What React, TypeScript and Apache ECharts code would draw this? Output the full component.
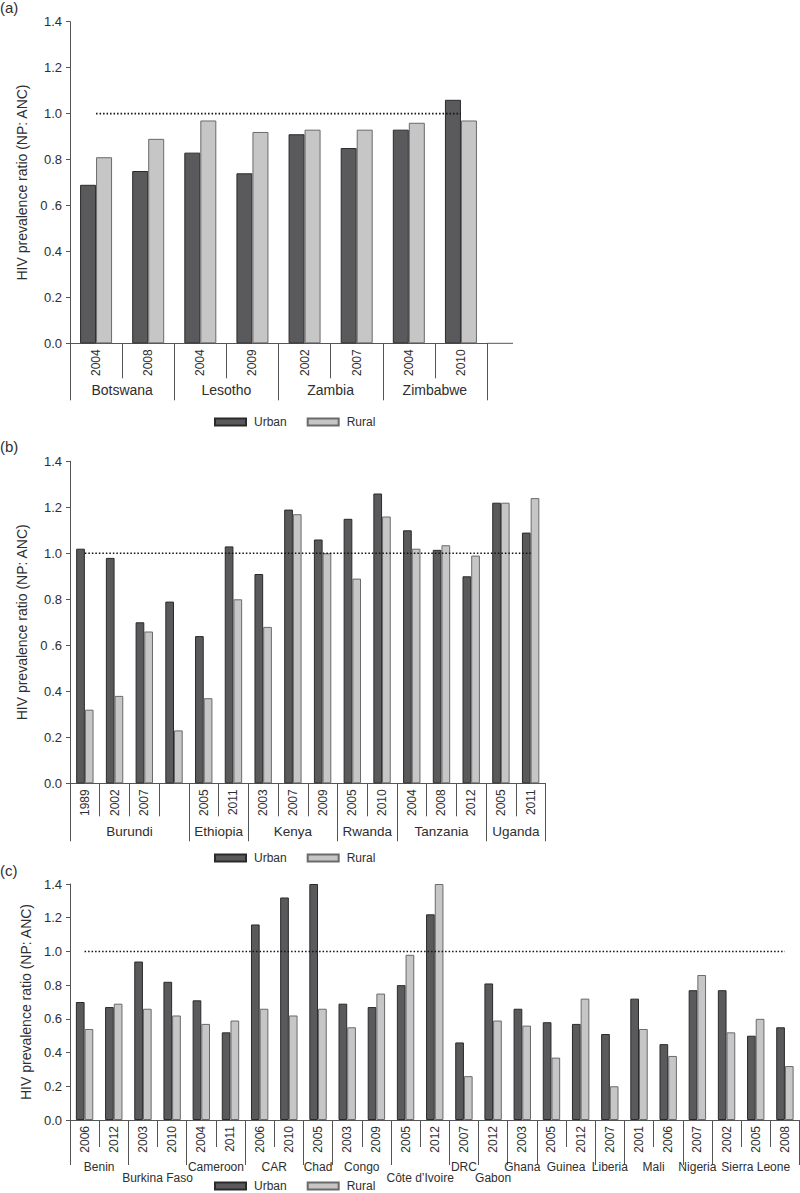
import React, { useEffect, useRef } from "react";
import * as echarts from "echarts";

// ---------- DATA ----------
const REF = 1.0;

const aYears = ["2004", "2008", "2004", "2009", "2002", "2007", "2004", "2010"];
const aCountries = ["Botswana", "Lesotho", "Zambia", "Zimbabwe"];
const aSpans = [2, 2, 2, 2];
const aUrban = [0.69, 0.75, 0.83, 0.74, 0.91, 0.85, 0.93, 1.06];
const aRural = [0.81, 0.89, 0.97, 0.92, 0.93, 0.93, 0.96, 0.97];

const bYears = ["1989", "2002", "2007", "", "2005", "2011", "2003", "2007", "2009", "2005", "2010", "2004", "2008", "2012", "2005", "2011"];
const bCountries = ["Burundi", "Ethiopia", "Kenya", "Rwanda", "Tanzania", "Uganda"];
const bSpans = [4, 2, 3, 2, 3, 2];
const bUrban = [1.02, 0.98, 0.70, 0.79, 0.64, 1.03, 0.91, 1.19, 1.06, 1.15, 1.26, 1.10, 1.015, 0.90, 1.22, 1.09];
const bRural = [0.32, 0.38, 0.66, 0.23, 0.37, 0.80, 0.68, 1.17, 1.00, 0.89, 1.16, 1.02, 1.035, 0.99, 1.22, 1.24];

const cYears = ["2006", "2012", "2003", "2010", "2004", "2011", "2006", "2010", "2005", "2003", "2009", "2005", "2012", "2007", "2012", "2003", "2005", "2012", "2007", "2001", "2006", "2007", "2002", "2005", "2008"];
const cCountries = ["Benin", "Burkina Faso", "Cameroon", "CAR", "Chad", "Congo", "Côte d’Ivoire", "DRC", "Gabon", "Ghana", "Guinea", "Liberia", "Mali", "Nigeria", "Sierra Leone"];
const cSpans = [2, 2, 2, 2, 1, 2, 2, 1, 1, 1, 2, 1, 2, 1, 3];
const cSecondRow = [0, 1, 0, 0, 0, 0, 1, 0, 1, 0, 0, 0, 0, 0, 0];
const cUrban = [0.70, 0.67, 0.94, 0.82, 0.71, 0.52, 1.16, 1.32, 1.40, 0.69, 0.67, 0.80, 1.22, 0.46, 0.81, 0.66, 0.58, 0.57, 0.51, 0.72, 0.45, 0.77, 0.77, 0.50, 0.55];
const cRural = [0.54, 0.69, 0.66, 0.62, 0.57, 0.59, 0.66, 0.62, 0.66, 0.55, 0.75, 0.98, 1.40, 0.26, 0.59, 0.56, 0.37, 0.72, 0.20, 0.54, 0.38, 0.86, 0.52, 0.60, 0.32];

const yTicksAB = ["0.0", "0.2", "0.4", "0 .6", "0.8", "1.0", "1.2", "1.4"];
const yTicksC = ["0.0", "0.2", "0.4", "0.6", "0.8", "1.0", "1.2", "1.4"];
const Y_NAME = "HIV prevalence ratio (NP: ANC)";
const LEGEND = ["Urban", "Rural"];
const PANEL_LABELS = ["(a)", "(b)", "(c)"];

// ---------- STYLE ----------
const FONT = "'Liberation Sans', Arial, Helvetica, sans-serif";
const TXT = "#2e2e2e";
const AX = "#555555";
const URBAN = "#5a5a5c";
const RURAL = "#c6c6c6";

type PanelCfg = {
  years: string[];
  countries: string[];
  spans: number[];
  secondRow?: number[];
  urban: number[];
  rural: number[];
  yTicks: string[];
  grid: { left: number; top: number; width: number; height: number };
  barWidth: number;
  yearTickLen: number;
  countryTickLen: number;
  countryMargin: number;
  countryFont: number;
  legendTop: number;
  titleTop: number;
};

const panels: PanelCfg[] = [
  {
    years: aYears, countries: aCountries, spans: aSpans, urban: aUrban, rural: aRural, yTicks: yTicksAB,
    grid: { left: 70, top: 21.7, width: 417, height: 321.6 },
    barWidth: 16, yearTickLen: 35, countryTickLen: 57, countryMargin: 41, countryFont: 14,
    legendTop: 416, titleTop: 0,
  },
  {
    years: bYears, countries: bCountries, spans: bSpans, urban: bUrban, rural: bRural, yTicks: yTicksAB,
    grid: { left: 70, top: 461.3, width: 475.5, height: 322 },
    barWidth: 8.7, yearTickLen: 33, countryTickLen: 58, countryMargin: 42.5, countryFont: 13.5,
    legendTop: 852, titleTop: 439,
  },
  {
    years: cYears, countries: cCountries, spans: cSpans, secondRow: cSecondRow, urban: cUrban, rural: cRural, yTicks: yTicksC,
    grid: { left: 70, top: 884, width: 729.5, height: 236 },
    barWidth: 8.7, yearTickLen: 27, countryTickLen: 45, countryMargin: 41, countryFont: 12,
    legendTop: 1180, titleTop: 862.5,
  },
];

function buildOption() {
  const grid: any[] = [];
  const xAxis: any[] = [];
  const yAxis: any[] = [];
  const series: any[] = [];
  const legend: any[] = [];
  const title: any[] = [];

  panels.forEach((p, k) => {
    const N = p.years.length;
    const bounds: number[] = [0];
    const centers: number[] = [];
    let acc = 0;
    p.spans.forEach((s) => {
      centers.push(acc + s / 2);
      acc += s;
      bounds.push(acc);
    });

    grid.push({ ...p.grid, containLabel: false });

    xAxis.push({
      type: "category",
      gridIndex: k,
      data: p.years,
      position: "bottom",
      axisLine: { show: true, lineStyle: { color: AX, width: 1 } },
      axisTick: { show: true, interval: 0, length: p.yearTickLen, lineStyle: { color: AX, width: 1 } },
      axisLabel: { interval: 0, rotate: 90, margin: 6, fontSize: 12, color: TXT, fontFamily: FONT },
      splitLine: { show: false },
    });
    xAxis.push({
      type: "value",
      gridIndex: k,
      min: 0,
      max: N,
      position: "bottom",
      axisLine: { show: false },
      axisTick: { show: true, customValues: bounds, length: p.countryTickLen, lineStyle: { color: AX, width: 1 } },
      axisLabel: {
        show: true,
        customValues: centers,
        margin: p.countryMargin,
        fontSize: p.countryFont,
        lineHeight: 11,
        color: TXT,
        fontFamily: FONT,
        formatter: (v: number) => {
          const i = centers.findIndex((c) => Math.abs(c - v) < 1e-6);
          if (i < 0) return "";
          const second = p.secondRow ? p.secondRow[i] : 0;
          return second ? "\n" + p.countries[i] : p.countries[i];
        },
      },
      splitLine: { show: false },
    });

    yAxis.push({
      type: "value",
      gridIndex: k,
      min: 0,
      max: 1.4,
      interval: 0.2,
      axisLine: { show: true, lineStyle: { color: AX, width: 1 } },
      axisTick: { show: true, length: 4, lineStyle: { color: AX } },
      axisLabel: {
        margin: 8,
        fontSize: 13,
        color: TXT,
        fontFamily: FONT,
        formatter: (v: number) => p.yTicks[Math.round(v / 0.2)] ?? "",
      },
      splitLine: { show: false },
      name: Y_NAME,
      nameLocation: "middle",
      nameGap: 36,
      nameTextStyle: { fontSize: 14, color: TXT, fontFamily: FONT },
    });

    series.push({
      type: "bar",
      name: "Urban",
      xAxisIndex: 2 * k,
      yAxisIndex: k,
      data: p.urban,
      barWidth: p.barWidth,
      barGap: "0%",
      itemStyle: { color: URBAN, borderColor: "#2a2a2a", borderWidth: 1 },
    });
    series.push({
      type: "bar",
      name: "Rural",
      xAxisIndex: 2 * k,
      yAxisIndex: k,
      data: p.rural,
      barWidth: p.barWidth,
      barGap: "0%",
      itemStyle: { color: RURAL, borderColor: "#6a6a6a", borderWidth: 1 },
    });
    series.push({
      type: "line",
      xAxisIndex: 2 * k,
      yAxisIndex: k,
      data: [[0, REF], [N - 1, REF]],
      symbol: "none",
      silent: true,
      z: 5,
      lineStyle: { color: "#111111", width: 1.6, type: [1.5, 2] },
    });

    legend.push({
      data: LEGEND,
      left: 214,
      top: p.legendTop,
      padding: 0,
      itemWidth: 31,
      itemHeight: 7,
      itemGap: 20,
      icon: "rect",
      selectedMode: false,
      textStyle: { fontSize: 12, color: TXT, fontFamily: FONT, padding: [0, 0, 0, 3] },
    });

    title.push({
      text: PANEL_LABELS[k],
      left: 0,
      top: p.titleTop,
      padding: 0,
      textStyle: { fontSize: 15, fontWeight: "normal", color: TXT, fontFamily: FONT },
    });
  });

  return {
    animation: false,
    backgroundColor: "#ffffff",
    textStyle: { fontFamily: FONT },
    title,
    legend,
    grid,
    xAxis,
    yAxis,
    series,
    graphic: [
      {
        type: "line",
        shape: { x1: 487, y1: 343.3, x2: 513, y2: 343.3 },
        style: { stroke: AX, lineWidth: 1 },
        silent: true,
      },
    ],
  };
}

export default function App() {
  const ref = useRef<HTMLDivElement>(null);
  useEffect(() => {
    document.body.style.margin = "0";
    if (!ref.current) return;
    const chart = echarts.init(ref.current, undefined, { renderer: "svg" });
    chart.setOption(buildOption() as any);
    return () => chart.dispose();
  }, []);
  return <div ref={ref} style={{ width: 800, height: 1193 }} />;
}
